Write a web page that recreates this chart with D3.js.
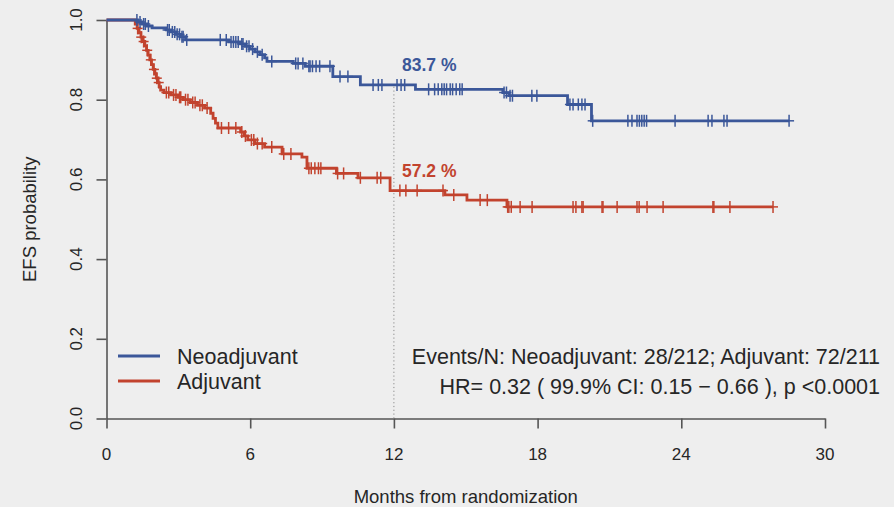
<!DOCTYPE html>
<html>
<head>
<meta charset="utf-8">
<script src="https://cdn.jsdelivr.net/npm/d3@7"></script>
<style>
  html, body { margin: 0; padding: 0; background: #eeeeee; }
  svg { display: block; }
  text { font-family: "Liberation Sans", Arial, Helvetica, sans-serif; fill: #262626; }
</style>
</head>
<body>
<svg id="chart" width="894" height="507"></svg>
<script>
// Kaplan-Meier event-free survival by treatment arm (months from randomization)
const groups = ["Neoadjuvant", "Adjuvant"];

// Neoadjuvant arm: event times, survival after each event, censoring times
const neoEventTimes = [1.3, 1.5, 1.7, 1.9, 2.5, 2.7, 2.9, 3.1, 3.3, 5.1, 5.6, 5.8, 6.0, 6.2, 6.4, 6.6, 6.7,
  7.8, 8.3, 9.45, 10.6, 12.9, 16.55, 16.8, 19.25, 20.25];
const neoEventSurv = [0.995, 0.990, 0.985, 0.980, 0.975, 0.970, 0.964, 0.958, 0.950, 0.945, 0.940, 0.934,
  0.927, 0.920, 0.913, 0.905, 0.896, 0.891, 0.884, 0.858, 0.837, 0.826, 0.818, 0.810, 0.788, 0.747];
const neoCensor = [1.27, 1.40, 1.55, 1.62, 1.75, 2.55, 2.62, 2.75, 2.85, 2.95, 3.05, 3.15, 3.20, 3.35, 4.75,
  5.00, 5.20, 5.30, 5.40, 5.50, 5.65, 5.70, 5.85, 5.95, 6.10, 6.30, 6.50, 6.90, 7.90, 8.00, 8.20, 8.45,
  8.50, 8.60, 8.75, 8.90, 9.33, 9.75, 10.08, 11.13, 11.35, 11.50, 12.13, 12.30, 12.45, 13.45, 13.70,
  13.85, 14.00, 14.10, 14.20, 14.35, 14.45, 14.60, 14.75, 14.85, 16.60, 16.70, 16.85, 16.95, 17.76,
  17.97, 19.35, 19.48, 19.70, 19.85, 19.98, 20.30, 21.77, 21.94, 22.15, 22.25, 22.35, 22.45, 22.55,
  23.74, 25.12, 25.28, 25.78, 25.91, 28.50];

// Adjuvant arm
const adjEventTimes = [1.20, 1.28, 1.36, 1.44, 1.52, 1.60, 1.67, 1.74, 1.81, 1.88, 1.95, 2.02, 2.08, 2.14,
  2.20, 2.26, 2.40, 2.70, 3.00, 3.20, 3.50, 3.80, 4.10, 4.35, 4.45, 4.55, 4.65, 5.60, 5.75, 5.90, 6.20,
  6.60, 7.33, 8.16, 8.37, 9.60, 10.50, 11.84, 14.13, 15.05, 16.72];
const adjEventSurv = [0.990, 0.979, 0.968, 0.957, 0.946, 0.935, 0.924, 0.912, 0.900, 0.888, 0.876, 0.865,
  0.854, 0.843, 0.833, 0.824, 0.818, 0.812, 0.806, 0.800, 0.793, 0.786, 0.779, 0.766, 0.753, 0.741,
  0.729, 0.719, 0.709, 0.699, 0.690, 0.681, 0.664, 0.656, 0.628, 0.615, 0.604, 0.572, 0.561, 0.548, 0.531];
const adjCensor = [1.30, 1.45, 1.55, 1.70, 1.85, 1.98, 2.10, 2.18, 2.50, 2.60, 2.80, 2.90, 3.05, 3.10, 3.30,
  3.40, 3.60, 3.70, 3.90, 4.00, 4.20, 4.80, 5.10, 5.40, 5.65, 5.80, 6.05, 6.15, 6.30, 6.50, 6.90, 7.40,
  7.70, 8.45, 8.55, 8.70, 8.85, 8.95, 9.65, 9.90, 10.60, 11.30, 11.45, 12.25, 12.50, 12.97, 14.05,
  14.50, 15.60, 15.90, 16.75, 16.80, 16.90, 17.27, 17.77, 19.48, 19.60, 19.85, 19.90, 20.69, 20.73,
  21.32, 22.15, 22.24, 22.57, 23.24, 25.32, 25.36, 26.03, 27.83];

// Axis ticks
const xTicks = [0, 6, 12, 18, 24, 30];
const yTicks = [0, 0.2, 0.4, 0.6, 0.8, 1.0];

// Landmark estimates at 12 months
const landmarkMonth = 12;
const landmarkNeo = 83.7;
const landmarkAdj = 57.2;

const statLines = [
  "Events/N: Neoadjuvant: 28/212; Adjuvant: 72/211",
  "HR= 0.32 ( 99.9% CI: 0.15 \u2212 0.66 ), p <0.0001"
];

const colors = { Neoadjuvant: "#3b5799", Adjuvant: "#c2432e" };

const svg = d3.select("#chart");
const x = d3.scaleLinear().domain([0, 30]).range([106.5, 825]);
const y = d3.scaleLinear().domain([0, 1]).range([418.5, 20]);

// axes: lines and ticks
const axisColor = "#555";
const gx = svg.append("g").attr("transform", `translate(0,${y(0)})`)
  .call(d3.axisBottom(x).tickValues(xTicks).tickSize(10).tickSizeOuter(0).tickFormat(""));
const gy = svg.append("g").attr("transform", `translate(${x(0)},0)`)
  .call(d3.axisLeft(y).tickValues(yTicks).tickSize(10).tickSizeOuter(0).tickFormat(""));
[gx, gy].forEach(g => {
  g.selectAll("path, line").attr("stroke", axisColor).attr("stroke-width", 1.6);
});

// tick labels
svg.append("g").selectAll("text").data(xTicks).join("text")
  .attr("transform", d => `translate(${x(d)},460)`)
  .attr("text-anchor", "middle").attr("font-size", 17)
  .text(d => d);
svg.append("g").selectAll("text").data(yTicks).join("text")
  .attr("transform", d => `translate(82,${y(d)}) rotate(-90)`)
  .attr("text-anchor", "middle").attr("font-size", 17)
  .text(d => d3.format(".1f")(d));

// axis titles
svg.append("text")
  .attr("transform", `translate(${(x(0) + x(30)) / 2},503)`)
  .attr("text-anchor", "middle").attr("font-size", 18.5)
  .text("Months from randomization");
svg.append("text")
  .attr("transform", `translate(36,${(y(0) + y(1)) / 2}) rotate(-90)`)
  .attr("text-anchor", "middle").attr("font-size", 18.5)
  .text("EFS probability");

// 12-month reference line
svg.append("line")
  .attr("x1", x(landmarkMonth)).attr("x2", x(landmarkMonth))
  .attr("y1", y(0)).attr("y2", y(landmarkNeo / 100))
  .attr("stroke", "#8a8a8a").attr("stroke-width", 1).attr("stroke-dasharray", "1.2,2.6");

// survival curves
function arm(name, times, surv, censor) {
  const end = d3.max(censor);
  const pts = [[0, 1]].concat(times.map((t, i) => [t, surv[i]]), [[end, surv[surv.length - 1]]]);
  const at = t => {
    const i = d3.bisectRight(times, t);
    return i === 0 ? 1 : surv[i - 1];
  };
  return { name, pts, censor: censor.map(t => [t, at(t)]) };
}
const arms = [
  arm("Neoadjuvant", neoEventTimes, neoEventSurv, neoCensor),
  arm("Adjuvant", adjEventTimes, adjEventSurv, adjCensor)
];
const line = d3.line().x(d => x(d[0])).y(d => y(d[1])).curve(d3.curveStepAfter);

// draw adjuvant first so neoadjuvant sits on top at the shared start
arms.slice().reverse().forEach(a => {
  const g = svg.append("g");
  g.append("path").datum(a.pts).attr("d", line)
    .attr("fill", "none").attr("stroke", colors[a.name]).attr("stroke-width", 2.8);
  const marks = g.selectAll("g.mark").data(a.censor).join("g")
    .attr("transform", d => `translate(${x(d[0])},${y(d[1])})`);
  marks.append("line").attr("y1", -6).attr("y2", 6)
    .attr("stroke", colors[a.name]).attr("stroke-width", 1.5);
  marks.append("line").attr("x1", -5).attr("x2", 5)
    .attr("stroke", colors[a.name]).attr("stroke-width", 1.5);
});

// landmark labels
svg.append("text")
  .attr("transform", "translate(402,70.5)")
  .attr("font-size", 17.5).attr("font-weight", "bold").style("fill", colors.Neoadjuvant)
  .text(`${landmarkNeo} %`);
svg.append("text")
  .attr("transform", "translate(402,176.5)")
  .attr("font-size", 17.5).attr("font-weight", "bold").style("fill", colors.Adjuvant)
  .text(`${landmarkAdj} %`);

// legend
const legend = svg.append("g");
groups.forEach((gname, i) => {
  const ly = 356 + i * 25;
  legend.append("line").attr("x1", 118).attr("x2", 160).attr("y1", ly).attr("y2", ly)
    .attr("stroke", colors[gname]).attr("stroke-width", 2.8);
  legend.append("text")
    .attr("transform", `translate(177,${ly + 8})`)
    .attr("font-size", 21.5).text(gname);
});

// statistics
statLines.forEach((s, i) => {
  svg.append("text")
    .attr("transform", `translate(880,${364 + i * 30})`)
    .attr("text-anchor", "end").attr("font-size", 21.5).text(s);
});
</script>
</body>
</html>
